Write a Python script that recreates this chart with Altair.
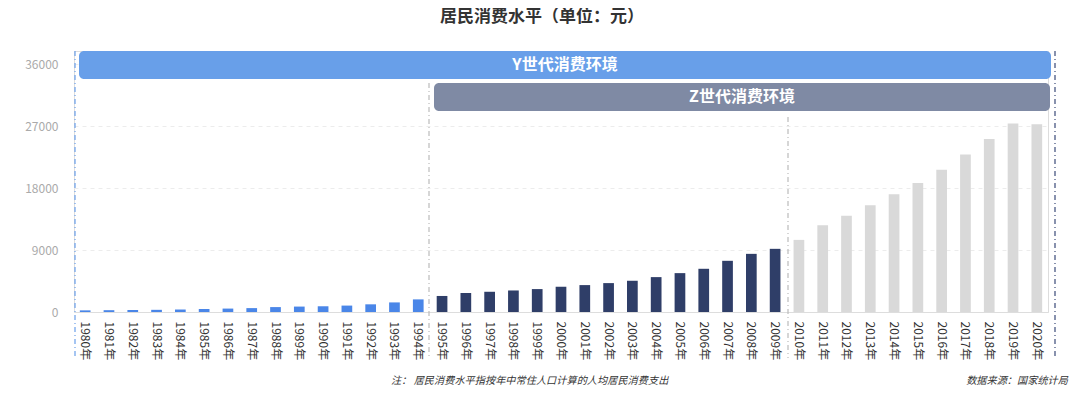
import altair as alt
import pandas as pd

# ---------------- data ----------------
years = [f"{y}年" for y in range(1980, 2021)]
values = [
    238, 264, 288, 316, 361, 446, 497, 565, 714, 788, 833, 932, 1116, 1393, 1833,
    2330, 2760, 2940, 3130, 3330, 3670, 3910, 4200, 4540, 5070, 5650, 6280, 7440, 8450, 9180,
    10480, 12600, 14000, 15500, 17100, 18750, 20680, 22900, 25130, 27400, 27300,
]
groups = ["Y世代"] * 15 + ["Z世代"] * 15 + ["其他"] * 11
y_ticks = [0, 9000, 18000, 27000, 36000]

title_text = "居民消费水平（单位：元）"
banner_labels = ["Y世代消费环境", "Z世代消费环境"]
note_text = "注：  居民消费水平指按年中常住人口计算的人均居民消费支出"
source_text = "数据来源：国家统计局"

FONT = "Noto Sans CJK SC"

df = pd.DataFrame({"year": years, "value": values, "group": groups})
one = pd.DataFrame({"k": [0]})

W, H = 974, 261

bars = alt.Chart(df).mark_bar().encode(
    x=alt.X(
        "year:N",
        sort=years,
        scale=alt.Scale(paddingInner=0.55, paddingOuter=0.245),
        axis=alt.Axis(
            title=None, labelAngle=90, labelAlign="left", labelBaseline="middle",
            labelPadding=9, ticks=False, domainColor="#dddddd", labelColor="#333333",
            labelFontSize=12, labelFont=FONT, labelOverlap=False, grid=False,
        ),
    ),
    y=alt.Y(
        "value:Q",
        scale=alt.Scale(domain=[0, 37930], nice=False),
        axis=alt.Axis(
            title=None, values=y_ticks, format="d", ticks=False, domain=False,
            labelColor="#aaaaaa", labelFontSize=12, labelFont=FONT, labelPadding=16,
            grid=True, gridDash=[4, 4], gridColor="#ececec",
        ),
    ),
    color=alt.Color(
        "group:N",
        scale=alt.Scale(domain=["Y世代", "Z世代", "其他"],
                        range=["#4a86e8", "#2f3e68", "#d9d9d9"]),
        legend=None,
    ),
)

# divider lines (dash-dot)
def vline(x, y0, y1, color):
    return alt.Chart(one).mark_rule(strokeDash=[5, 3, 1, 3], strokeWidth=1.2, color=color).encode(
        x=alt.value(x), y=alt.value(y0), y2=alt.value(y1)
    )

lines = (
    vline(1, 0, 307, "#6a9fea")
    + vline(355, 32, 307, "#bbbbbb")
    + vline(714, 66, 307, "#bbbbbb")
    + vline(981, 0, 307, "#3a4a78")
)

# banners
banner_y = alt.Chart(one).mark_rect(color="#689fe9", cornerRadius=5).encode(
    x=alt.value(5), x2=alt.value(977), y=alt.value(0), y2=alt.value(28)
)
banner_z = alt.Chart(one).mark_rect(color="#7f8aa4", cornerRadius=5).encode(
    x=alt.value(360), x2=alt.value(976), y=alt.value(32), y2=alt.value(60)
)
text_y = alt.Chart(one).mark_text(
    text=banner_labels[0], font=FONT, fontSize=16, fontWeight="bold", color="white",
    align="center", baseline="middle",
).encode(x=alt.value(491), y=alt.value(14))
text_z = alt.Chart(one).mark_text(
    text=banner_labels[1], font=FONT, fontSize=16, fontWeight="bold", color="white",
    align="center", baseline="middle",
).encode(x=alt.value(668), y=alt.value(46))

title = alt.Chart(one).mark_text(
    text=title_text, font=FONT, fontSize=17, fontWeight="bold", color="#333333",
    align="center", baseline="top",
).encode(x=alt.value(468), y=alt.value(-42))

note = alt.Chart(one).mark_text(
    text=note_text, font=FONT, fontSize=10.2, fontStyle="italic", color="#333333",
    align="left", baseline="middle",
).encode(x=alt.value(317), y=alt.value(330))

source = alt.Chart(one).mark_text(
    text=source_text, font=FONT, fontSize=10.2, fontStyle="italic", color="#333333",
    align="right", baseline="middle",
).encode(x=alt.value(994), y=alt.value(330))

chart = alt.layer(
    bars, lines, banner_y, banner_z, text_y, text_z, title, note, source
).properties(
    width=W, height=H,
    autosize=alt.AutoSizeParams(type="none"),
    padding={"left": 66, "top": 43, "right": 24, "bottom": 76},
).configure_view(stroke=None).configure(background="white")

chart.save("out.html", embed_options={"renderer": "svg", "actions": False})
